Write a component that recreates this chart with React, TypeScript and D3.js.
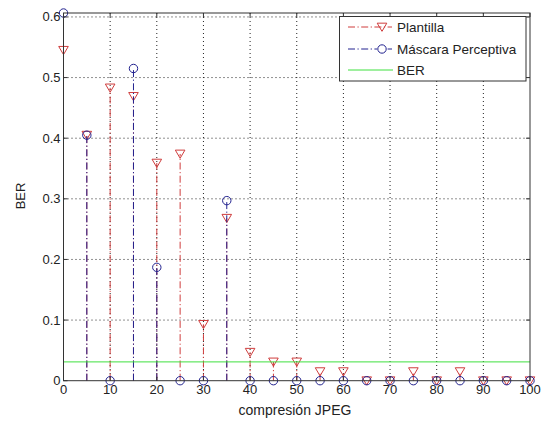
import React from "react";
import * as d3 from "d3";

// JPEG compression quality levels (x axis)
const compression = [0, 5, 10, 15, 20, 25, 30, 35, 40, 45, 50, 55, 60, 65, 70, 75, 80, 85, 90, 95, 100];
// Bit error rate for the template ("Plantilla") method
const plantilla = [0.545, 0.405, 0.483, 0.469, 0.359, 0.374, 0.093, 0.268, 0.047, 0.031, 0.031, 0.015, 0.015, 0, 0, 0.015, 0, 0.015, 0, 0, 0];
// Bit error rate for the perceptual mask method
const mascara = [0.6065, 0.405, 0, 0.515, 0.187, 0, 0, 0.297, 0, 0, 0, 0, 0, 0, 0, 0, 0, 0, 0, 0, 0];
// Reference BER threshold
const berThreshold = 0.031;

const xTicks = [0, 10, 20, 30, 40, 50, 60, 70, 80, 90, 100];
const yTicks = [0, 0.1, 0.2, 0.3, 0.4, 0.5, 0.6];
const legendLabels = ["Plantilla", "Máscara Perceptiva", "BER"];

const W = 542;
const H = 422;
const left = 63.5;
const right = 530;
const top = 13;
const bottom = 380.7;

const RED = "#cf3d3d";
const BLUE = "#22228f";
const GREEN = "#3fe03f";
const FONT = "'Liberation Sans', Arial, Helvetica, sans-serif";
const DASHDOT = "7,2.5,1.2,2.5";

function Triangle({ cx, cy }: { cx: number; cy: number }) {
  const s = 4.8;
  const p = d3.path();
  p.moveTo(cx - s, cy - s * 0.8);
  p.lineTo(cx + s, cy - s * 0.8);
  p.lineTo(cx, cy + s * 0.9);
  p.closePath();
  return <path d={p.toString()} fill="none" stroke={RED} strokeWidth={1} />;
}

export default function App() {
  const x = d3.scaleLinear().domain([0, 100]).range([left, right]);
  const y = d3.scaleLinear().domain([0, d3.max(mascara) as number]).range([bottom, top]);
  const fmt = d3.format(".1f");

  return (
    <svg width={W} height={H} style={{ display: "block", position: "absolute", left: 0, top: 0, background: "#fff" }}>
      <rect x={0} y={0} width={W} height={H} fill="#fff" />
      {/* grid */}
      <g stroke="#222" strokeWidth={1} strokeDasharray="1,3">
        {xTicks.slice(1, -1).map((t) => (
          <line key={"gx" + t} x1={x(t)} x2={x(t)} y1={top} y2={bottom} />
        ))}
        {yTicks.slice(1).map((t) => (
          <line key={"gy" + t} x1={left} x2={right} y1={y(t)} y2={y(t)} />
        ))}
      </g>

      {/* Plantilla stems */}
      <g>
        {compression.map((c, i) => (
          <line key={"ps" + c} x1={x(c)} x2={x(c)} y1={y(0)} y2={y(plantilla[i])} stroke={RED} strokeWidth={1} strokeDasharray={DASHDOT} />
        ))}
        {compression.map((c, i) => (
          <Triangle key={"pm" + c} cx={x(c)} cy={y(plantilla[i])} />
        ))}
      </g>

      {/* Máscara Perceptiva stems */}
      <g>
        {compression.map((c, i) => (
          <line key={"ms" + c} x1={x(c)} x2={x(c)} y1={y(0)} y2={y(mascara[i])} stroke={BLUE} strokeWidth={1} strokeDasharray={DASHDOT} />
        ))}
        {compression.map((c, i) => (
          <circle key={"mm" + c} cx={x(c)} cy={y(mascara[i])} r={4.2} fill="none" stroke={BLUE} strokeWidth={1} />
        ))}
      </g>

      {/* BER threshold */}
      <line x1={x(0)} x2={x(100)} y1={y(berThreshold)} y2={y(berThreshold)} stroke={GREEN} strokeWidth={1} />

      {/* axes box */}
      <rect x={left} y={top} width={right - left} height={bottom - top} fill="none" stroke="#333" strokeWidth={1} />
      <g stroke="#333" strokeWidth={1}>
        {xTicks.map((t) => (
          <g key={"tx" + t}>
            <line x1={x(t)} x2={x(t)} y1={bottom} y2={bottom - 4} />
            <line x1={x(t)} x2={x(t)} y1={top} y2={top + 4} />
          </g>
        ))}
        {yTicks.map((t) => (
          <g key={"ty" + t}>
            <line x1={left} x2={left + 4} y1={y(t)} y2={y(t)} />
            <line x1={right} x2={right - 4} y1={y(t)} y2={y(t)} />
          </g>
        ))}
      </g>

      {/* tick labels */}
      <g fontFamily={FONT} fontSize={13} fill="#222">
        {xTicks.map((t) => (
          <text key={"lx" + t} x={x(t)} y={bottom + 13} textAnchor="middle">{t}</text>
        ))}
        {yTicks.map((t) => (
          <text key={"ly" + t} x={left - 3} y={y(t) + 4.5} textAnchor="end">{t === 0 ? "0" : fmt(t)}</text>
        ))}
      </g>

      {/* axis labels */}
      <text x={295} y={415} textAnchor="middle" fontFamily={FONT} fontSize={14} fill="#222">compresión JPEG</text>
      <text transform={`translate(25, 196) rotate(-90)`} textAnchor="middle" fontFamily={FONT} fontSize={13} fill="#222">BER</text>

      {/* legend */}
      <g fontFamily={FONT} fontSize={13.5} fill="#222">
        <rect x={339.5} y={16.5} width={186.5} height={64.5} fill="#fff" stroke="#333" strokeWidth={1} />
        <line x1={348} x2={392} y1={27} y2={27} stroke={RED} strokeDasharray={DASHDOT} />
        <Triangle cx={382} cy={27} />
        <text x={397} y={32}>{legendLabels[0]}</text>
        <line x1={348} x2={392} y1={49} y2={49} stroke={BLUE} strokeDasharray={DASHDOT} />
        <rect x={377} y={44} width={10} height={10} fill="#fff" />
        <circle cx={382} cy={49} r={4.2} fill="none" stroke={BLUE} />
        <text x={397} y={54}>{legendLabels[1]}</text>
        <line x1={348} x2={393} y1={70} y2={70} stroke={GREEN} />
        <text x={397} y={75}>{legendLabels[2]}</text>
      </g>
    </svg>
  );
}
